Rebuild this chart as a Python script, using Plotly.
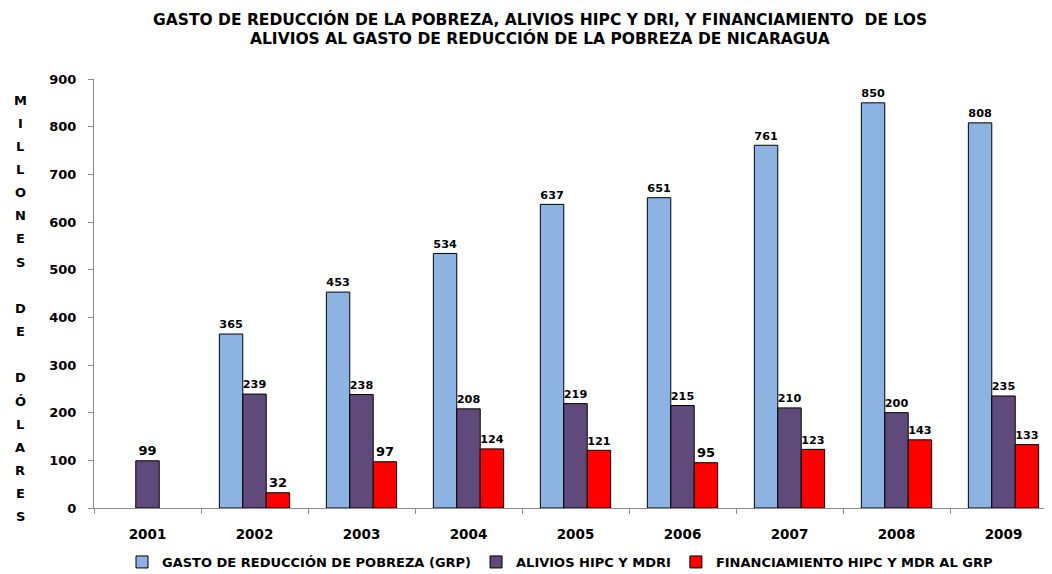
import plotly.graph_objects as go

years = ["2001", "2002", "2003", "2004", "2005", "2006", "2007", "2008", "2009"]
grp = [None, 365, 453, 534, 637, 651, 761, 850, 808]
alivios = [99, 239, 238, 208, 219, 215, 210, 200, 235]
financ = [None, 32, 97, 124, 121, 95, 123, 143, 133]

names = ["GASTO DE REDUCCIÓN DE POBREZA (GRP)", "ALIVIOS HIPC Y MDRI", "FINANCIAMIENTO HIPC Y MDR AL GRP"]
colors = ["#8DB3E2", "#604A7B", "#FF0000"]
title_lines = ["GASTO DE REDUCCIÓN DE LA POBREZA, ALIVIOS HIPC Y DRI, Y FINANCIAMIENTO  DE LOS",
               "ALIVIOS AL GASTO DE REDUCCIÓN DE LA POBREZA DE NICARAGUA"]
ylabel_letters = list("MILLONES") + [""] + list("DE") + [""] + list("DÓLARES")

FONT = "DejaVu Sans"
W, H = 1052, 574
L, R, T, B = 86, 1049, 71, 500   # plot area in figure pixels


def py(ypx):
    return (B - ypx) / (B - T)


def px(xpx):
    return (xpx - L) / (R - L)


fig = go.Figure()
for vals, name, col in zip([grp, alivios, financ], names, colors):
    fig.add_trace(go.Bar(
        x=years, y=vals, name=name,
        marker=dict(color=col, line=dict(color="#000000", width=1)),
        text=[("" if v is None else str(v)) for v in vals],
        textposition="outside", cliponaxis=False,
        textfont=dict(family=FONT, size=13, color="#000000", weight="bold"),
    ))

annotations = []
for i, line in enumerate(title_lines):
    annotations.append(dict(
        x=px(532), xref="paper", xanchor="center",
        y=py(11 + i * 19.5), yref="paper", yanchor="middle",
        text=f"<b>{line}</b>", showarrow=False,
        font=dict(family=FONT, size=15.5, color="#000000"),
    ))
for i, ch in enumerate(ylabel_letters):
    if not ch:
        continue
    annotations.append(dict(
        x=px(12), xref="paper", xanchor="center",
        y=py(92 + i * 23.16), yref="paper", yanchor="middle",
        text=f"<b>{ch}</b>", showarrow=False,
        font=dict(family=FONT, size=13, color="#000000"),
    ))

fig.update_layout(
    width=W, height=H,
    margin=dict(l=L, r=W - R, t=T, b=H - B, autoexpand=False),
    paper_bgcolor="white", plot_bgcolor="white",
    barmode="group", bargap=0.343, bargroupgap=0,
    font=dict(family=FONT, color="#000000"),
    legend=dict(orientation="h", x=px(552), xanchor="center", y=py(554), yanchor="middle",
                font=dict(family=FONT, size=13, color="#000000", weight="bold"),
                itemwidth=30, tracegroupgap=0, traceorder="normal"),
    annotations=annotations,
    showlegend=True,
)
fig.update_xaxes(type="category", showline=True, linecolor="#8c8c8c", linewidth=1,
                 ticks="outside", tickson="boundaries", ticklen=5, tickcolor="#8c8c8c",
                 ticklabelstandoff=14, automargin=False,
                 tickfont=dict(family=FONT, size=13.5, color="#000000", weight="bold"),
                 showgrid=False)
fig.update_yaxes(range=[0, 900], dtick=100, showline=True, linecolor="#8c8c8c", linewidth=1,
                 ticks="outside", ticklen=5, tickcolor="#8c8c8c", automargin=False,
                 ticklabelstandoff=9,
                 tickfont=dict(family=FONT, size=13, color="#000000", weight="bold"),
                 showgrid=False, zeroline=False)

fig.write_html("out.html")
